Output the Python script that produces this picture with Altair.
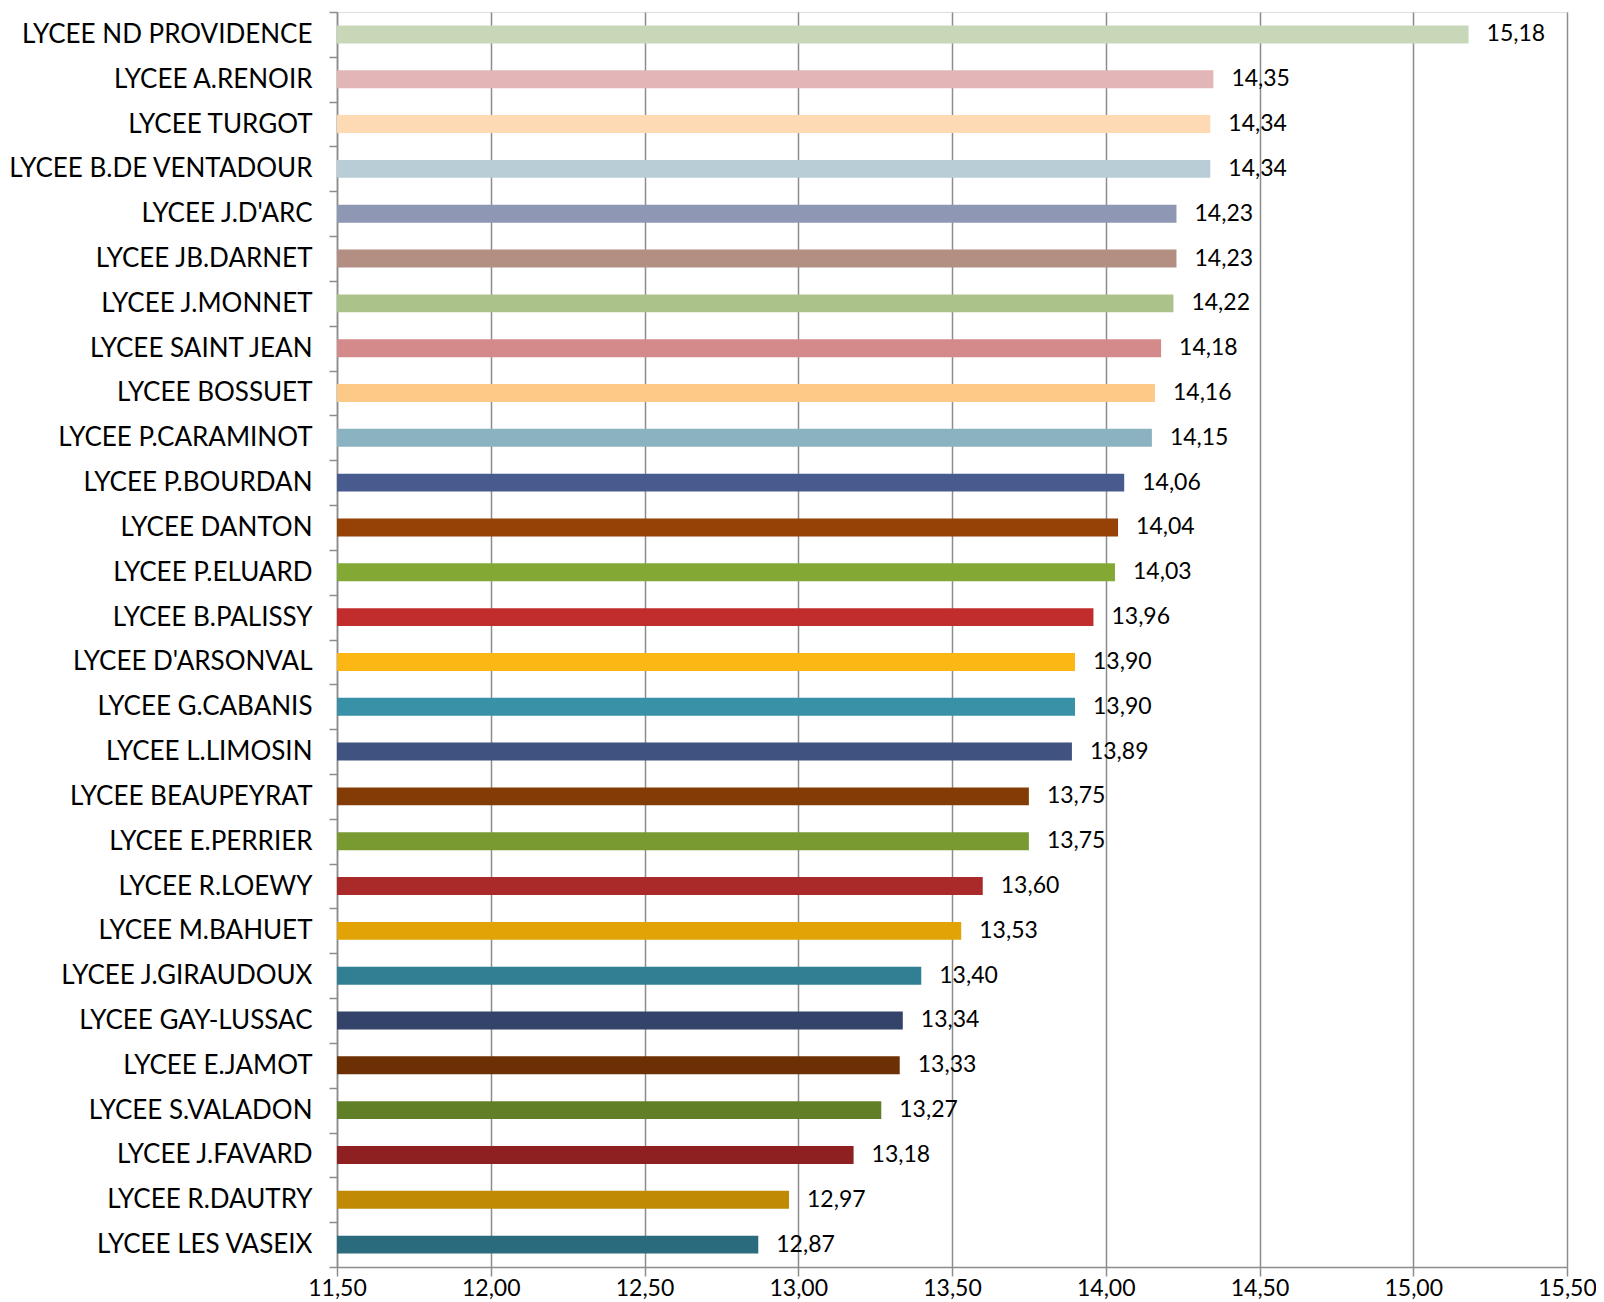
import altair as alt
import pandas as pd

schools = [
    "LYCEE ND PROVIDENCE", "LYCEE A.RENOIR", "LYCEE TURGOT", "LYCEE B.DE VENTADOUR",
    "LYCEE J.D'ARC", "LYCEE JB.DARNET", "LYCEE J.MONNET", "LYCEE SAINT JEAN",
    "LYCEE BOSSUET", "LYCEE P.CARAMINOT", "LYCEE P.BOURDAN", "LYCEE DANTON",
    "LYCEE P.ELUARD", "LYCEE B.PALISSY", "LYCEE D'ARSONVAL", "LYCEE G.CABANIS",
    "LYCEE L.LIMOSIN", "LYCEE BEAUPEYRAT", "LYCEE E.PERRIER", "LYCEE R.LOEWY",
    "LYCEE M.BAHUET", "LYCEE J.GIRAUDOUX", "LYCEE GAY-LUSSAC", "LYCEE E.JAMOT",
    "LYCEE S.VALADON", "LYCEE J.FAVARD", "LYCEE R.DAUTRY", "LYCEE LES VASEIX",
]
values = [
    15.18, 14.35, 14.34, 14.34, 14.23, 14.23, 14.22, 14.18,
    14.16, 14.15, 14.06, 14.04, 14.03, 13.96, 13.90, 13.90,
    13.89, 13.75, 13.75, 13.60, 13.53, 13.40, 13.34, 13.33,
    13.27, 13.18, 12.97, 12.87,
]
colors = [
    "#C9D7B9", "#E2B6B6", "#FDDAB4", "#B8CDD6", "#8E98B4", "#B38E83", "#ABC28A", "#D48A8A",
    "#FDC986", "#8BB2C1", "#475B8E", "#964105", "#83A934", "#C12D2D", "#FDB714", "#3891A7",
    "#3F5280", "#833C06", "#789A31", "#AA2A2A", "#E1A306", "#307F92", "#334369", "#6D3005",
    "#617F27", "#8E2022", "#C18A05", "#2A6C7D",
]
x_min, x_max = 11.5, 15.5
x_ticks = [11.5, 12.0, 12.5, 13.0, 13.5, 14.0, 14.5, 15.0, 15.5]

df = pd.DataFrame({"school": schools, "value": values})

FONT = "Lato"
GRAY = "#8c8c8c"

base = alt.Chart(df).transform_calculate(
    label="replace(format(datum.value, '.2f'), '.', ',')"
)

y_enc = alt.Y(
    "school:N",
    sort=schools,
    title=None,
    scale=alt.Scale(paddingInner=0, paddingOuter=0),
    axis=alt.Axis(
        tickBand="extent",
        tickSize=8,
        tickColor=GRAY,
        tickWidth=1.5,
        domainColor=GRAY,
        domainWidth=1.5,
        labelFont=FONT,
        labelFontSize=26,
        labelColor="#000000",
        labelPadding=17,
        labelLimit=400,
        grid=False,
    ),
)

x_enc = alt.X(
    "value:Q",
    title=None,
    scale=alt.Scale(domain=[x_min, x_max], zero=False, nice=False),
    axis=alt.Axis(
        values=x_ticks,
        labelExpr="replace(format(datum.value, '.2f'), '.', ',')",
        grid=True,
        gridColor=GRAY,
        gridWidth=1.5,
        tickColor=GRAY,
        tickWidth=1.5,
        tickSize=9,
        domainColor=GRAY,
        domainWidth=1.5,
        labelFont=FONT,
        labelFontSize=23,
        labelColor="#000000",
        labelPadding=1,
        labelFlush=False,
    ),
)

bars = base.mark_bar(height={"band": 0.4}).encode(
    y=y_enc,
    x=x_enc,
    x2=alt.datum(x_min),
    color=alt.Color("school:N", scale=alt.Scale(domain=schools, range=colors), legend=None),
)

text = base.mark_text(align="left", baseline="middle", dx=18, font=FONT, fontSize=23, color="#000000").encode(
    y=alt.Y("school:N", sort=schools),
    x=alt.X("value:Q"),
    text="label:N",
)

chart = alt.layer(bars, text).properties(
    width=1230,
    height=1255,
    padding={"left": 329, "top": 4, "right": 29, "bottom": 34},
    autosize=alt.AutoSizeParams(type="none"),
).configure_view(stroke=None).configure(background="white")

chart.save("out.html", embed_options={"renderer": "svg", "actions": False})
